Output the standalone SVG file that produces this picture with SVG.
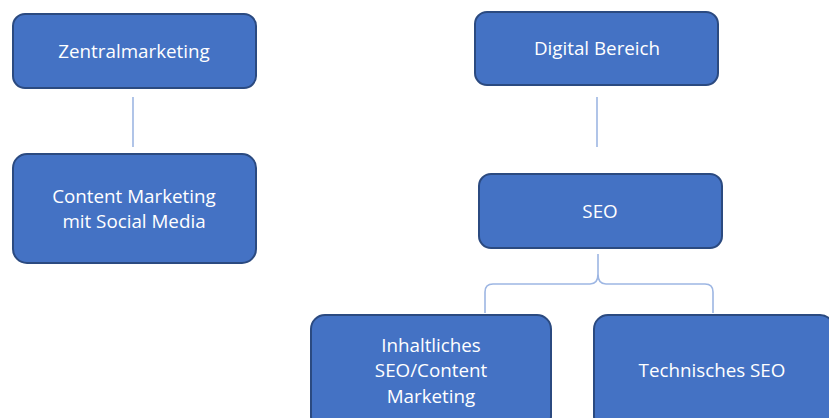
<svg xmlns="http://www.w3.org/2000/svg" width="829" height="418" viewBox="0 0 829 418">
  <style>
    .box { fill: #4472C4; stroke: #2B4A80; stroke-width: 2; }
    .label { font-family: "Open Sans", "Noto Sans", "Liberation Sans", sans-serif; font-size: 18.8px; fill: #FFFFFF; text-anchor: middle; }
    .conn { fill: none; stroke: #9DB6E3; stroke-width: 1.6; }
  </style>
  <rect width="829" height="418" fill="#FFFFFF"/>

  <g id="connectors">
    <line class="conn" x1="133" y1="97" x2="133" y2="147"/>
    <line class="conn" x1="597" y1="97" x2="597" y2="147"/>
    <!-- curly brace from SEO to its two children -->
    <path class="conn" d="M485 313 L485 292 Q485 284 493 284 L590 284 Q598 284 598 274 L598 254 M598 254 L598 274 Q598 284 606 284 L705 284 Q713 284 713 292 L713 313"/>
  </g>

  <g id="zentralmarketing">
    <rect class="box" x="13" y="14" width="243" height="74" rx="12"/>
    <text class="label" x="134" y="58">Zentralmarketing</text>
  </g>

  <g id="content-marketing">
    <rect class="box" x="13" y="154" width="243" height="109" rx="14"/>
    <text class="label" x="134" y="203">Content Marketing</text>
    <text class="label" x="134" y="228">mit Social Media</text>
  </g>

  <g id="digital-bereich">
    <rect class="box" x="475" y="12" width="243" height="73" rx="12"/>
    <text class="label" x="597" y="55">Digital Bereich</text>
  </g>

  <g id="seo">
    <rect class="box" x="479" y="174" width="243" height="74" rx="12"/>
    <text class="label" x="600" y="218">SEO</text>
  </g>

  <g id="inhaltliches-seo">
    <rect class="box" x="311" y="315" width="240" height="115" rx="14"/>
    <text class="label" x="431" y="352">Inhaltliches</text>
    <text class="label" x="431" y="377">SEO/Content</text>
    <text class="label" x="431" y="403">Marketing</text>
  </g>

  <g id="technisches-seo">
    <rect class="box" x="594" y="315" width="240" height="115" rx="14"/>
    <text class="label" x="712" y="377">Technisches SEO</text>
  </g>
</svg>
